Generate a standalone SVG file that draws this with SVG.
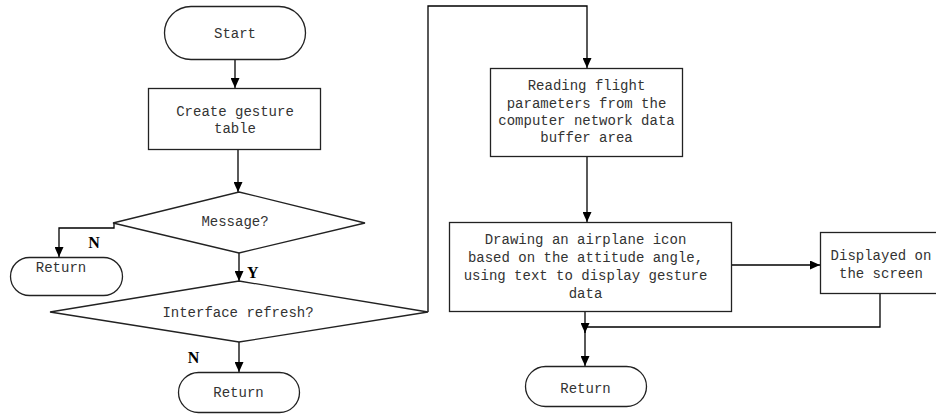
<svg xmlns="http://www.w3.org/2000/svg" width="936" height="414" viewBox="0 0 936 414">
<defs>
<marker id="ah" markerWidth="10" markerHeight="9" refX="10" refY="4.5" orient="auto" markerUnits="userSpaceOnUse">
<path d="M0,0 L10,4.5 L0,9 Z" fill="#000"/>
</marker>
<style>
.s{fill:#fff;stroke:#222;stroke-width:1.3}
.t{font-family:"Liberation Mono","DejaVu Sans Mono",monospace;font-size:14px;fill:#333;text-anchor:middle}
.l{font-family:"Liberation Serif",serif;font-size:16px;font-weight:bold;fill:#000}
.c{fill:none;stroke:#000;stroke-width:1.3}
</style>
</defs>
<rect width="936" height="414" fill="#fff"/>
<g id="connectors">
<path class="c" d="M235,60 V88" marker-end="url(#ah)"/>
<path class="c" d="M238,150 V192" marker-end="url(#ah)"/>
<path class="c" d="M114,223 V228 H59 V257" marker-end="url(#ah)"/>
<path class="c" d="M239,253 V281" marker-end="url(#ah)"/>
<path class="c" d="M239,342 V372" marker-end="url(#ah)"/>
<path class="c" d="M428,312 V6 H587 V68" marker-end="url(#ah)"/>
<path class="c" d="M587,157 V222" marker-end="url(#ah)"/>
<path class="c" d="M732,265 H820" marker-end="url(#ah)"/>
<path class="c" d="M585,312 V333" marker-end="url(#ah)"/>
<path class="c" d="M880,293 V327 H585 V366" marker-end="url(#ah)"/>
<text class="l" x="94" y="248" text-anchor="middle">N</text>
<text class="l" x="247" y="278">Y</text>
<text class="l" x="193.5" y="363" text-anchor="middle">N</text>
</g>
<g id="start">
<rect class="s" x="164.5" y="6.5" width="141" height="53" rx="26.5"/>
<text class="t" x="235" y="38">Start</text>
</g>
<g id="create">
<rect class="s" x="148.5" y="88.5" width="172" height="61"/>
<text class="t" x="235" y="116">Create gesture</text>
<text class="t" x="235" y="133">table</text>
</g>
<g id="message">
<polygon class="s" points="239,192 365,223 239,253 113,223"/>
<text class="t" x="235" y="226">Message?</text>
</g>
<g id="return1">
<rect class="s" x="10.5" y="257.5" width="112" height="38" rx="19"/>
<text class="t" x="61" y="272">Return</text>
</g>
<g id="interface">
<polygon class="s" points="239,281 428,312 239,342 50,312"/>
<text class="t" x="238" y="317">Interface refresh?</text>
</g>
<g id="return2">
<rect class="s" x="178.5" y="372.5" width="121" height="40" rx="20"/>
<text class="t" x="238.5" y="397">Return</text>
</g>
<g id="reading">
<rect class="s" x="490.5" y="68.5" width="192" height="88"/>
<text class="t" x="586.5" y="90">Reading flight</text>
<text class="t" x="586.5" y="107.5">parameters from the</text>
<text class="t" x="586.5" y="125">computer network data</text>
<text class="t" x="586.5" y="142">buffer area</text>
</g>
<g id="drawing">
<rect class="s" x="449.5" y="222.5" width="282" height="89"/>
<text class="t" x="585.5" y="243.5">Drawing an airplane icon</text>
<text class="t" x="585.5" y="261.5">based on the attitude angle,</text>
<text class="t" x="585.5" y="280">using text to display gesture</text>
<text class="t" x="585.5" y="298">data</text>
</g>
<g id="displayed">
<rect class="s" x="820.5" y="232.5" width="130" height="61"/>
<text class="t" x="881" y="259.5">Displayed on</text>
<text class="t" x="881" y="278">the screen</text>
</g>
<g id="return3">
<rect class="s" x="525.5" y="366.5" width="121" height="40" rx="20"/>
<text class="t" x="585.5" y="393">Return</text>
</g>
</svg>
